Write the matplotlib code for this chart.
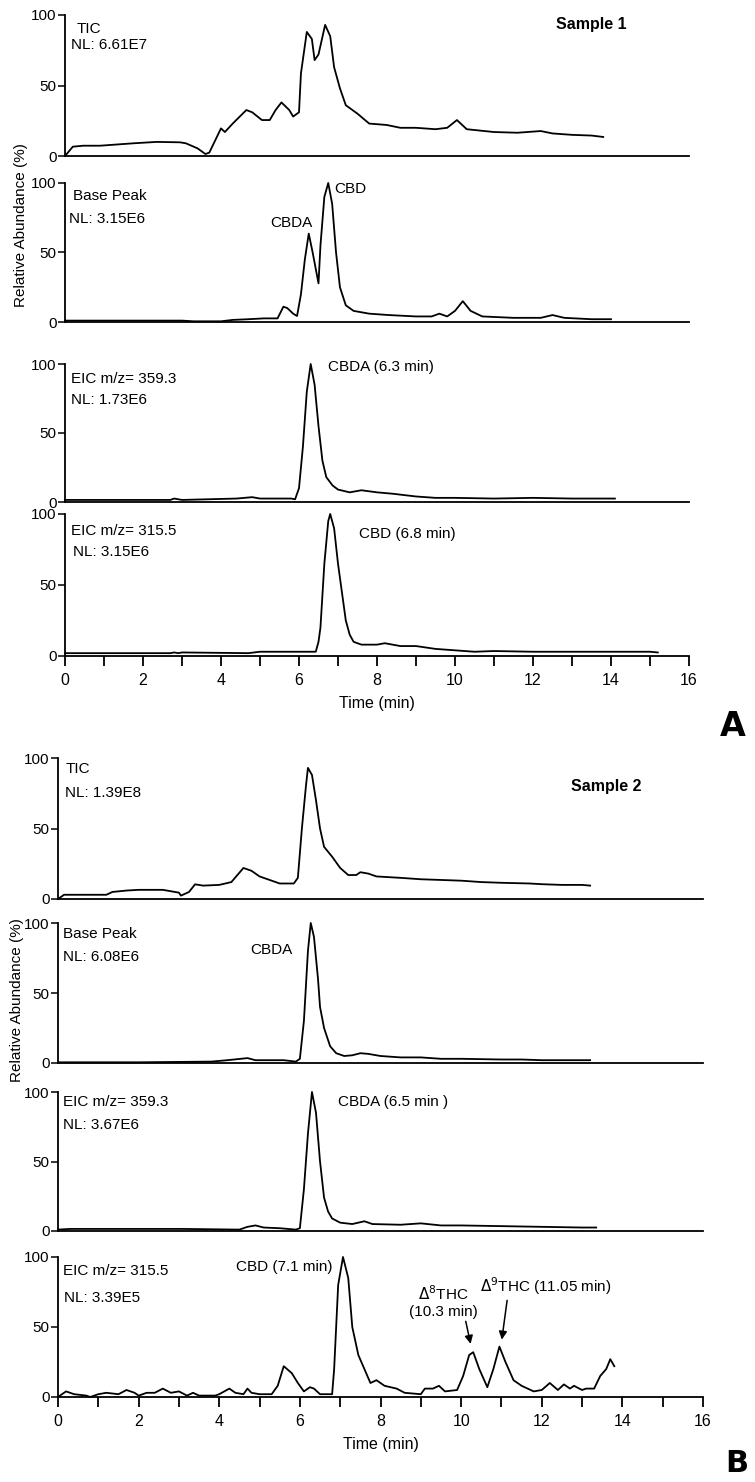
import matplotlib
matplotlib.use("Agg")
import matplotlib.pyplot as plt
from matplotlib import font_manager as fm

names = {f.name for f in fm.fontManager.ttflist}
NARROW = 'Liberation Sans Narrow' if 'Liberation Sans Narrow' in names else 'Liberation Sans'
plt.rcParams['font.family'] = [NARROW, 'DejaVu Sans']

# ---------------- data ----------------
tic1_t = [0,0.2,0.47,0.9,1.75,2.35,2.95,3.1,3.4,3.6,3.7,3.85,4.0,4.1,4.3,4.65,4.8,5.05,5.25,5.4,5.55,5.75,5.85,6.0,6.05,6.2,6.33,6.4,6.5,6.67,6.8,6.9,7.05,7.2,7.5,7.8,8.25,8.6,9.0,9.5,9.8,10.05,10.3,11.0,11.6,12.2,12.5,13.0,13.5,13.8]
tic1_y = [0,6.6,7.3,7.3,9,10,9.7,9,5.4,1.4,2.4,11,19.6,17,23,32.6,31,25.5,25.5,32.6,38,32.6,28,31,58.6,88,83,68,72,93,85,63,48,36,30,23,22,20,20,19,20,25.5,19,17,16.5,17.7,16,15,14.5,13.5]

bp1_t = [0,1,2,3,3.3,4,4.3,4.7,5.1,5.45,5.6,5.7,5.85,5.95,6.05,6.15,6.25,6.35,6.5,6.55,6.65,6.75,6.85,6.95,7.05,7.2,7.4,7.8,8.3,9.0,9.4,9.6,9.8,10.0,10.2,10.4,10.7,11.5,12.2,12.5,12.8,13.5,14.0]
bp1_y = [1,1,1,1,0.5,0.5,1.5,2,2.6,2.6,11,10,6,4.3,20,45,63.6,50,27.8,55,90,100,85,50,25,12,8,6,5,4,4,6,4,8,15,8,4,3,3,5,3,2,2]

e1a_t = [0,2,2.7,2.8,3.0,4.4,4.8,5.0,5.8,5.9,6.0,6.1,6.2,6.3,6.4,6.5,6.6,6.7,6.86,7.0,7.3,7.6,8.0,8.4,9.0,9.5,10.0,11.0,12.0,13.0,14.1]
e1a_y = [1.5,1.5,1.5,2.5,1.5,2.5,3.5,2.5,2.5,2,10,40,80,100,85,55,30,18,12,9,7,8.5,7,6,4,3,3,2.5,3,2.5,2.5]

e1b_t = [0,2.7,2.8,2.9,3.0,4.7,5.0,5.9,6.43,6.5,6.55,6.65,6.75,6.8,6.9,7.0,7.1,7.2,7.3,7.4,7.6,8.0,8.2,8.6,9.0,9.5,10.0,10.5,11.0,12.0,13.0,14.0,15.0,15.2]
e1b_y = [2,2,2.5,2,2.5,2,3,3,3,10,20,65,95,100,90,65,45,25,15,10,8,8,9,7,7,5,4,3,3.5,3,3,3,3,2.5]

tic2_t = [0,0.15,1.2,1.35,1.7,2.0,2.6,3.0,3.05,3.25,3.4,3.6,4.0,4.3,4.6,4.8,5.0,5.3,5.5,5.85,5.95,6.05,6.15,6.2,6.3,6.4,6.5,6.6,6.8,7.0,7.2,7.4,7.5,7.7,7.9,8.5,9.0,10.0,10.5,11.0,11.7,12.0,12.5,13.0,13.2]
tic2_y = [0,3,3,5,6,6.5,6.5,4.5,2.4,5,10.4,9.5,10,12,22,20,16,13,11,11,15,50,80,93,88,70,50,37,30,22,17,17,19,18,16,15,14,13,12,11.5,11,10.5,10,10,9.5]

bp2_t = [0,2,3.8,4.2,4.7,4.9,5.3,5.6,5.9,6.0,6.1,6.2,6.27,6.35,6.45,6.5,6.6,6.75,6.9,7.1,7.3,7.5,7.7,8.0,8.5,9.0,9.5,10.0,11.0,11.5,12.0,12.5,13.0,13.2]
bp2_y = [0.5,0.5,1,2,3.5,2,2,2,1,3,30,80,100,90,60,40,25,12,7,5,5.5,7,6.5,5,4,4,3,3,2.5,2.5,2,2,2,2]

e2a_t = [0,0.3,3.1,4.5,4.7,4.9,5.1,5.5,5.9,6.0,6.1,6.2,6.3,6.4,6.5,6.6,6.7,6.8,7.0,7.3,7.6,7.8,8.5,9.0,9.5,10.0,11.0,12.0,13.0,13.35]
e2a_y = [1,1.5,1.5,1,3,4,2.5,2,1,2,30,70,100,85,50,24,14,9,6,5,7,5,4.5,5.5,4,4,3.5,3,2.5,2.5]

e2b_t = [0,0.2,0.4,0.7,0.8,1.0,1.2,1.5,1.7,1.9,2.0,2.2,2.4,2.6,2.8,3.0,3.2,3.35,3.5,3.9,4.0,4.25,4.4,4.6,4.7,4.8,5.0,5.3,5.45,5.6,5.8,5.95,6.1,6.25,6.35,6.5,6.8,6.85,6.95,7.07,7.2,7.3,7.45,7.6,7.75,7.9,8.1,8.4,8.6,9.0,9.1,9.3,9.45,9.6,9.9,10.05,10.2,10.3,10.45,10.65,10.8,10.95,11.1,11.3,11.5,11.8,12.0,12.2,12.4,12.55,12.7,12.8,13.0,13.1,13.3,13.45,13.6,13.7,13.8]
e2b_y = [0,4,2,1,0,2,3,2,5,3,1,3,3,6,3,4,1,3,1,1,2,6,3,2,6,3,2,2,8,22,17,10,4,7,6,2,2,20,80,100,85,50,30,20,10,12,8,6,3,2,6,6,8,4,5,15,30,32,20,7,20,36,25,12,8,4,5,10,5,9,6,8,5,6,6,15,20,27,22]

ticks = [0,2,4,6,8,10,12,14,16]

# ---------------- layout ----------------
W, H = 755, 1482
fig = plt.figure(figsize=(W/100, H/100), dpi=100)

def mkax(left_px, right_px, top_px, bot_px):
    ax = fig.add_axes([left_px/W, 1-bot_px/H, (right_px-left_px)/W, (bot_px-top_px)/H])
    ax.set_xlim(0, 16); ax.set_ylim(0, 100)
    for s in ['top', 'right']:
        ax.spines[s].set_visible(False)
    for s in ['left', 'bottom']:
        ax.spines[s].set_linewidth(1.3)
    ax.set_yticks([0, 50, 100])
    ax.tick_params(axis='y', direction='out', length=5, width=1.1, labelsize=11, pad=1)
    ax.tick_params(axis='x', which='both', bottom=False, labelbottom=False)
    return ax

def bottom_ticks(ax):
    ax.set_xticks(ticks)
    ax.set_xticks([1,3,5,7,9,11,13,15], minor=True)
    ax.tick_params(axis='x', which='both', bottom=True, direction='out', length=7, width=1.3)
    ax.tick_params(axis='x', which='major', labelbottom=True, labelsize=11.5, pad=5)
    ax.set_xlabel('Time (min)', fontsize=11.5, labelpad=6)

LW = 1.3
kw = dict(color='black', lw=LW, clip_on=False)
tk = dict(fontsize=11, ha='left', va='center')

A = [(15,156),(183,322),(364,502),(514,656)]
B = [(758,899),(923,1063),(1092,1231),(1257,1397)]
axA = [mkax(65, 689, t, b) for t, b in A]
axB = [mkax(58, 703, t, b) for t, b in B]

a = axA[0]; a.plot(tic1_t, tic1_y, **kw)
a.text(0.3, 90, 'TIC', **tk); a.text(0.15, 79, 'NL: 6.61E7', **tk)
a.text(13.5, 93, 'Sample 1', fontsize=11.5, fontweight='bold', ha='center', va='center')

a = axA[1]; a.plot(bp1_t, bp1_y, **kw)
a.text(0.2, 91, 'Base Peak', **tk); a.text(0.1, 74, 'NL: 3.15E6', **tk)
a.text(5.8, 71, 'CBDA', fontsize=11, ha='center', va='center')
a.text(6.9, 96, 'CBD', fontsize=11, ha='left', va='center')

a = axA[2]; a.plot(e1a_t, e1a_y, **kw)
a.text(0.15, 89, 'EIC m/z= 359.3', **tk); a.text(0.15, 74, 'NL: 1.73E6', **tk)
a.text(6.75, 98, 'CBDA (6.3 min)', **tk)

a = axA[3]; a.plot(e1b_t, e1b_y, **kw)
a.text(0.15, 88, 'EIC m/z= 315.5', **tk); a.text(0.2, 73, 'NL: 3.15E6', **tk)
a.text(7.55, 86, 'CBD (6.8 min)', **tk)
bottom_ticks(a)

a = axB[0]; a.plot(tic2_t, tic2_y, **kw)
a.text(0.18, 92, 'TIC', **tk); a.text(0.18, 75, 'NL: 1.39E8', **tk)
a.text(13.6, 80, 'Sample 2', fontsize=11.5, fontweight='bold', ha='center', va='center')

a = axB[1]; a.plot(bp2_t, bp2_y, **kw)
a.text(0.12, 92, 'Base Peak', **tk); a.text(0.12, 76, 'NL: 6.08E6', **tk)
a.text(5.3, 81, 'CBDA', fontsize=11, ha='center', va='center')

a = axB[2]; a.plot(e2a_t, e2a_y, **kw)
a.text(0.12, 93, 'EIC m/z= 359.3', **tk); a.text(0.12, 76, 'NL: 3.67E6', **tk)
a.text(6.95, 93, 'CBDA (6.5 min )', **tk)

a = axB[3]; a.plot(e2b_t, e2b_y, **kw)
a.text(0.12, 90, 'EIC m/z= 315.5', **tk); a.text(0.15, 71, 'NL: 3.39E5', **tk)
a.text(5.6, 93, 'CBD (7.1 min)', fontsize=11, ha='center', va='center')
a.text(9.55, 74, r'$\Delta^8$THC', fontsize=11, ha='center', va='center')
a.text(9.55, 61, '(10.3 min)', fontsize=11, ha='center', va='center')
a.text(12.1, 79, r'$\Delta^9$THC (11.05 min)', fontsize=11, ha='center', va='center')
a.annotate('', xy=(10.25, 36), xytext=(10.1, 56),
           arrowprops=dict(arrowstyle='-|>', color='black', lw=1.1, mutation_scale=12))
a.annotate('', xy=(11.0, 39), xytext=(11.15, 71),
           arrowprops=dict(arrowstyle='-|>', color='black', lw=1.1, mutation_scale=12))
bottom_ticks(a)

fig.text(21/W, 1-225/H, 'Relative Abundance (%)', rotation=90, ha='center', va='center',
         fontsize=11, family=['Liberation Sans', 'DejaVu Sans'])
fig.text(17/W, 1-1000/H, 'Relative Abundance (%)', rotation=90, ha='center', va='center',
         fontsize=11, family=['Liberation Sans', 'DejaVu Sans'])
fig.text(733/W, 1-727/H, 'A', fontsize=24, fontweight='bold', ha='center', va='center',
         family=['DejaVu Sans'])
fig.text(737/W, 1-1463/H, 'B', fontsize=22, fontweight='bold', ha='center', va='center',
         family=['DejaVu Sans'])

fig.savefig('out.png', dpi=100)
